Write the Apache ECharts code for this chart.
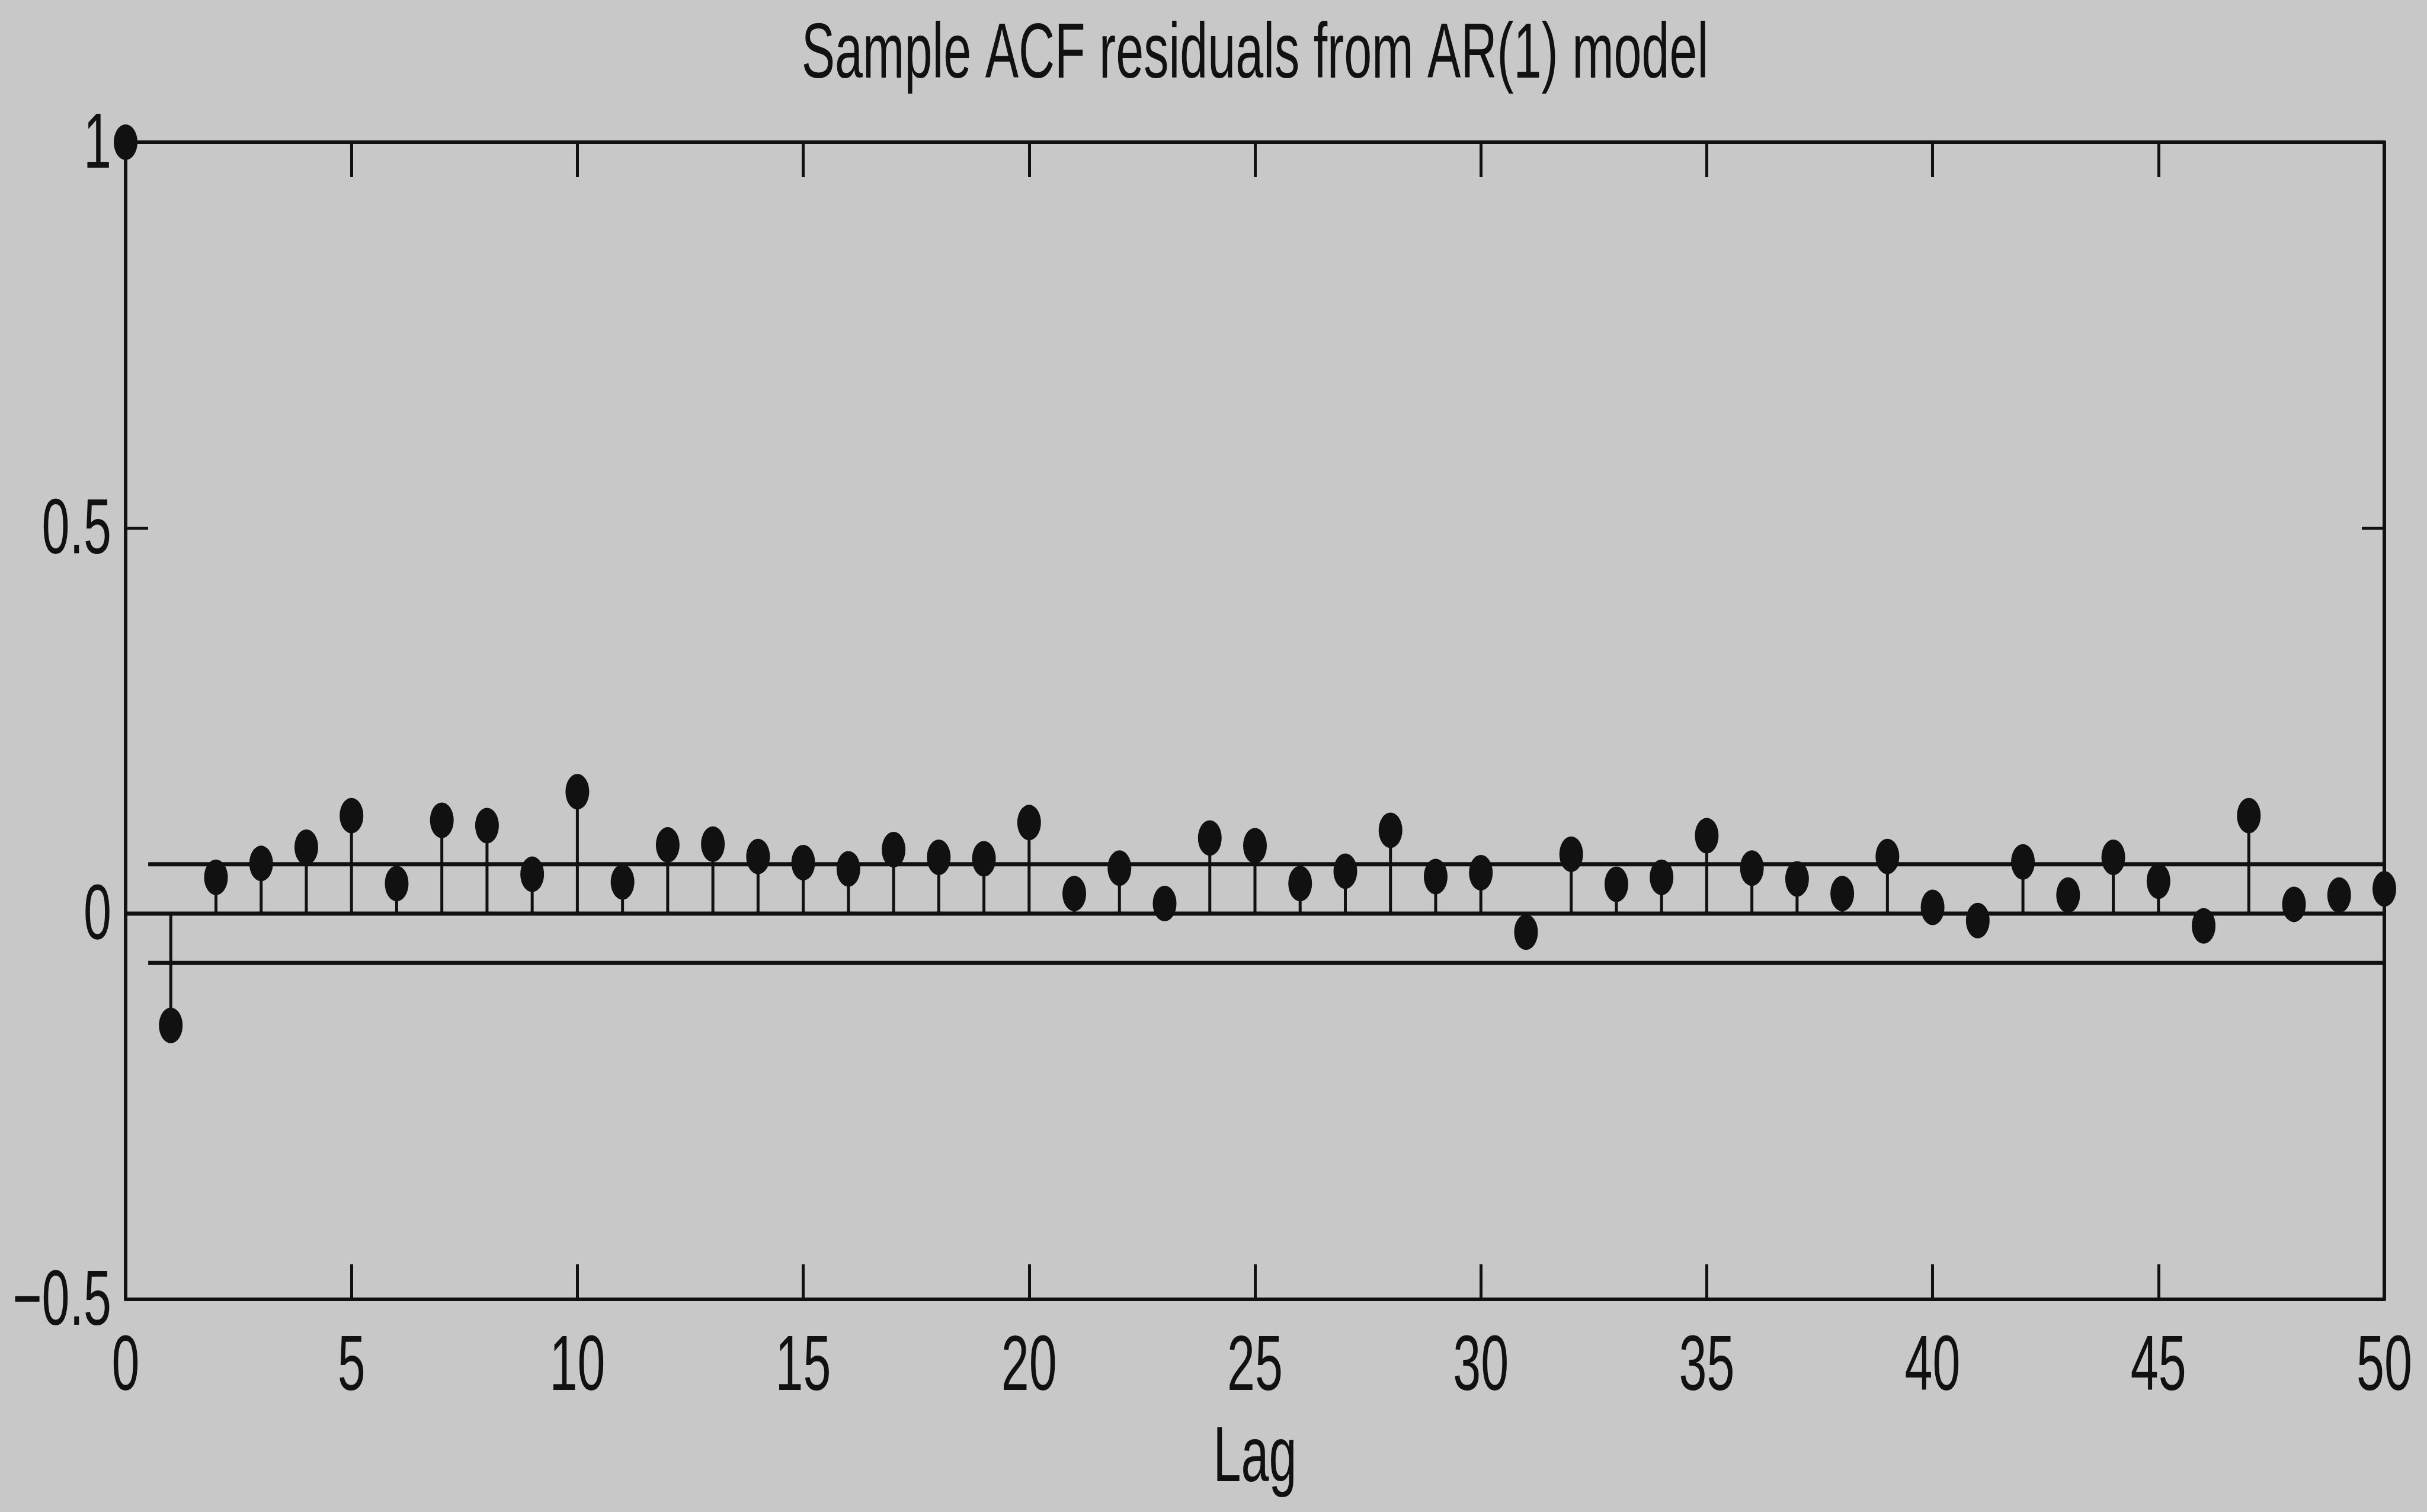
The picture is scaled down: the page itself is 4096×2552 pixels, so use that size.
<!DOCTYPE html>
<html>
<head>
<meta charset="utf-8">
<script src="https://cdn.jsdelivr.net/npm/echarts@6.0.0/dist/echarts.min.js"></script>
<style>
html,body{margin:0;padding:0;background:#c8c8c8;}
#c{width:4096px;height:2552px;}
</style>
</head>
<body>
<div id="c"></div>
<script>
// ---- data ----
const chartTitle = 'Sample ACF residuals from AR(1) model';
const xName = 'Lag';
const lags = [0,1,2,3,4,5,6,7,8,9,10,11,12,13,14,15,16,17,18,19,20,21,22,23,24,25,26,27,28,29,30,31,32,33,34,35,36,37,38,39,40,41,42,43,44,45,46,47,48,49,50];
const acf = [1.000,
  -0.145, 0.047, 0.065, 0.086, 0.127, 0.039, 0.121, 0.114, 0.051, 0.158,
   0.041, 0.089, 0.090, 0.074, 0.066, 0.058, 0.083, 0.073, 0.071, 0.118,
   0.026, 0.059, 0.013, 0.098, 0.088, 0.039, 0.055, 0.108, 0.048, 0.053,
  -0.024, 0.077, 0.038, 0.047, 0.101, 0.059, 0.045, 0.026, 0.074, 0.008,
  -0.009, 0.067, 0.024, 0.073, 0.042, -0.016, 0.127, 0.012, 0.024, 0.032];
const confUpper = 0.064;
const confLower = -0.064;
const confStart = 0.5;
const xTicks = [0,5,10,15,20,25,30,35,40,45,50];
const xTickLabels = ['0','5','10','15','20','25','30','35','40','45','50'];
const yTicks = [-0.5, 0, 0.5, 1];
const yTickLabels = ['\u22120.5','0','0.5','1'];

// ---- style ----
const ink = '#111111';
const bg = '#c8c8c8';
const fontFamily = "'Liberation Sans', Arial, Helvetica, sans-serif";
const fontSize = 132;
const squeeze = 0.64;
const textDy = 7;
const xMin = 0, xMax = 50, xStep = 5;
const yMin = -0.5, yMax = 1, yStep = 0.5;

const chart = echarts.init(document.getElementById('c'), null, {renderer: 'canvas'});

function xAxisDef(pos) {
  return {
    type: 'value', position: pos, min: xMin, max: xMax, interval: xStep,
    axisLine: {show: true, onZero: false, lineStyle: {color: ink, width: 6}},
    axisTick: {show: true, inside: true, length: 59, lineStyle: {color: ink, width: 5}},
    axisLabel: {show: false}, splitLine: {show: false}
  };
}
function yAxisDef(pos) {
  return {
    type: 'value', position: pos, min: yMin, max: yMax, interval: yStep,
    axisLine: {show: true, onZero: false, lineStyle: {color: ink, width: 6}},
    axisTick: {show: true, inside: true, length: 38, lineStyle: {color: ink, width: 5}},
    axisLabel: {show: false}, splitLine: {show: false}
  };
}

const points = lags.map((l, i) => [l, acf[i]]);

chart.setOption({
  backgroundColor: bg,
  animation: false,
  grid: {left: 212, right: 72, top: 240, bottom: 359},
  xAxis: [xAxisDef('bottom'), xAxisDef('top')],
  yAxis: [yAxisDef('left'), yAxisDef('right')],
  series: [
    {type: 'line', data: [[xMin, 0], [xMax, 0]], symbol: 'none', lineStyle: {color: ink, width: 7}, silent: true},
    {type: 'line', data: [[confStart, confUpper], [xMax, confUpper]], symbol: 'none', lineStyle: {color: ink, width: 7}, silent: true},
    {type: 'line', data: [[confStart, confLower], [xMax, confLower]], symbol: 'none', lineStyle: {color: ink, width: 7}, silent: true},
    {
      type: 'custom', clip: false, data: points,
      renderItem: function (params, api) {
        const p0 = api.coord([api.value(0), 0]);
        const p1 = api.coord([api.value(0), api.value(1)]);
        return {type: 'line', shape: {x1: p0[0], y1: p0[1], x2: p1[0], y2: p1[1]},
                style: {stroke: ink, lineWidth: 5}};
      }
    },
    {type: 'scatter', clip: false, data: points, symbol: 'circle', symbolSize: [40, 60],
     itemStyle: {color: ink, opacity: 1}, z: 5}
  ]
});

// ---- text (condensed) ----
const g = [];
function txt(x, y, s, align) {
  return {type: 'text', x: x, y: y + textDy, scaleX: squeeze, silent: true,
    style: {text: s, x: 0, y: 0, align: align, verticalAlign: 'middle',
            fontSize: fontSize, fontFamily: fontFamily, fill: ink}};
}
xTicks.forEach((v, i) => {
  const p = chart.convertToPixel({xAxisIndex: 0, yAxisIndex: 0}, [v, yMin]);
  g.push(txt(p[0], p[1] + 110, xTickLabels[i], 'center'));
});
yTicks.forEach((v, i) => {
  const p = chart.convertToPixel({xAxisIndex: 0, yAxisIndex: 0}, [xMin, v]);
  g.push(txt(p[0] - 24, p[1], yTickLabels[i], 'right'));
});
const pl = chart.convertToPixel({xAxisIndex: 0, yAxisIndex: 0}, [xMin, yMin]);
const pr = chart.convertToPixel({xAxisIndex: 0, yAxisIndex: 0}, [xMax, yMax]);
const cx = (pl[0] + pr[0]) / 2;
g.push(txt(cx, pl[1] + 264, xName, 'center'));
g.push(txt(cx, 88, chartTitle, 'center'));
chart.setOption({graphic: g});
</script>
</body>
</html>
